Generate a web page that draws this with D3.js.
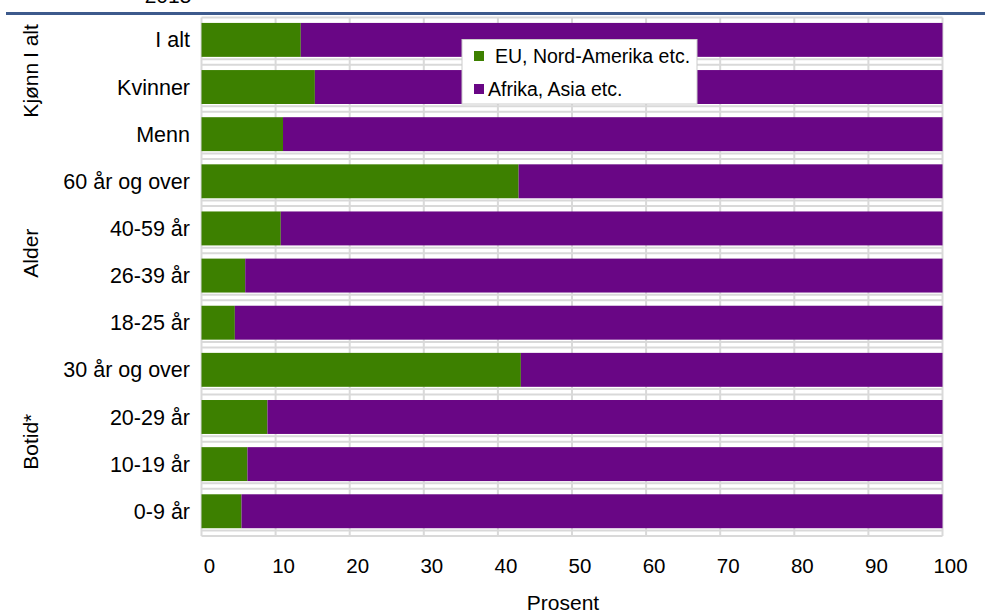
<!DOCTYPE html>
<html>
<head>
<meta charset="utf-8">
<script src="https://cdn.jsdelivr.net/npm/d3@7"></script>
<style>
  body { margin: 0; background: #fff; }
  svg { display: block; font-family: "Liberation Sans", Arial, sans-serif; }
</style>
</head>
<body>
<div id="chart"></div>
<script>
// categories, top to bottom
var categories = ["I alt", "Kvinner", "Menn", "60 år og over", "40-59 år",
                  "26-39 år", "18-25 år", "30 år og over", "20-29 år",
                  "10-19 år", "0-9 år"];
// share from EU, Nord-Amerika etc. (percent)
var euValues = [13.4, 15.3, 11.0, 42.8, 10.7, 5.9, 4.5, 43.1, 8.9, 6.2, 5.4];
// share from Afrika, Asia etc. (percent)
var afValues = [86.6, 84.7, 89.0, 57.2, 89.3, 94.1, 95.5, 56.9, 91.1, 93.8, 94.6];
var seriesNames = ["EU, Nord-Amerika etc.", "Afrika, Asia etc."];
var seriesColors = ["#3d8000", "#690685"];
var xTicks = [0, 10, 20, 30, 40, 50, 60, 70, 80, 90, 100];
// group labels on the far left: label, first and last category it is centred on
var groupLabels = ["I alt", "Kjønn", "Alder", "Botid*"];
var groupFrom = ["I alt", "Kvinner", "40-59 år", "20-29 år"];
var groupTo = ["I alt", "Kvinner", "26-39 år", "10-19 år"];

var W = 985, H = 614;
var plot = { left: 201.5, right: 942.5, top: 17.5, bottom: 536 };

var svg = d3.select("#chart").append("svg").attr("width", W).attr("height", H);

var x = d3.scaleLinear().domain([0, 100]).range([plot.left, plot.right]);
var y = d3.scaleBand().domain(categories).range([plot.top, plot.bottom]);
var step = y.step();

// year title, mostly cut off at the top (as in the source)
svg.append("text").attr("x", 168).attr("y", 3).attr("text-anchor", "middle")
  .attr("font-size", 21).text("2015");

// header rule
svg.append("rect").attr("x", 6).attr("y", 12).attr("width", W - 6).attr("height", 3)
  .attr("fill", "#3d5a8c");

// grid
var grid = svg.append("g").attr("stroke", "#d9d9d9").attr("stroke-width", 2);
grid.selectAll("line.v").data(xTicks).enter().append("line")
  .attr("x1", function(d) { return x(d); }).attr("x2", function(d) { return x(d); })
  .attr("y1", plot.top).attr("y2", plot.bottom);
var bounds = categories.map(function(c) { return y(c); }).concat([plot.bottom]);
grid.selectAll("line.h").data(bounds).enter().append("line")
  .attr("x1", plot.left).attr("x2", plot.right)
  .attr("y1", function(d) { return d; }).attr("y2", function(d) { return d; });
grid.selectAll("line.h2").data(bounds.slice(1)).enter().append("line")
  .attr("x1", plot.left).attr("x2", plot.right)
  .attr("y1", function(d) { return d - 5.5; }).attr("y2", function(d) { return d - 5.5; });

// stacked bars
var rows = categories.map(function(c, i) { return { key: c, eu: euValues[i], af: afValues[i] }; });
var stack = d3.stack().keys(["eu", "af"])(rows);
var barOff = step * 0.115, barH = step * 0.72;
svg.append("g").selectAll("g").data(stack).enter().append("g")
  .attr("fill", function(d, i) { return seriesColors[i]; })
  .selectAll("rect").data(function(d) { return d; }).enter().append("rect")
  .attr("x", function(d) { return x(d[0]); })
  .attr("width", function(d) { return x(d[1]) - x(d[0]); })
  .attr("y", function(d) { return y(d.data.key) + barOff; })
  .attr("height", barH);

// category labels
svg.append("g").selectAll("text").data(categories).enter().append("text")
  .attr("x", 190).attr("y", function(d) { return y(d) + barOff + barH / 2; })
  .attr("dy", "0.35em").attr("text-anchor", "end").attr("font-size", 21.5)
  .text(function(d) { return d; });

// group labels (rotated)
svg.append("g").selectAll("text").data(groupLabels).enter().append("text")
  .attr("transform", function(d, i) {
    var cy = (y(groupFrom[i]) + y(groupTo[i]) + step) / 2 + (i === 1 ? 2 : 0);
    return "translate(38," + cy + ") rotate(-90)";
  })
  .attr("text-anchor", "middle").attr("font-size", 21)
  .text(function(d) { return d; });

// x axis tick labels
svg.append("g").selectAll("text").data(xTicks).enter().append("text")
  .attr("x", function(d) { return x(d) + 8; }).attr("y", 573)
  .attr("text-anchor", "middle").attr("font-size", 20.5)
  .text(function(d) { return d; });

svg.append("text").attr("x", 563).attr("y", 610).attr("text-anchor", "middle")
  .attr("font-size", 21).text("Prosent");

// legend
var lg = svg.append("g");
lg.append("rect").attr("x", 462).attr("y", 39.5).attr("width", 235).attr("height", 64.5)
  .attr("fill", "#fff").attr("stroke", "#cccccc").attr("stroke-width", 1);
var items = lg.selectAll("g").data(seriesNames).enter().append("g")
  .attr("transform", function(d, i) { return "translate(474," + (56 + i * 33) + ")"; });
items.append("rect").attr("x", 0).attr("y", -5).attr("width", 10).attr("height", 10)
  .attr("fill", function(d, i) { return seriesColors[i]; });
items.append("text").attr("x", function(d, i) { return i ? 14 : 21; }).attr("dy", "0.35em")
  .attr("font-size", 19.5).text(function(d) { return d; });
</script>
</body>
</html>
